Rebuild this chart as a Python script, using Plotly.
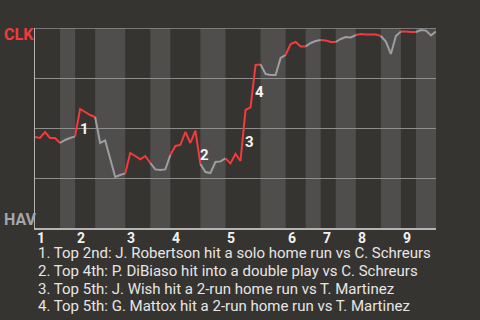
import plotly.graph_objects as go

# Win probability for CLK after each play (0 = HAV wins, 1 = CLK wins)
win_prob = [
    0.455, 0.45, 0.48, 0.45, 0.45, 0.425,            # 1T
    0.44, 0.45, 0.458,                                 # 1B
    0.595, 0.58, 0.565, 0.555,                         # 2T
    0.425, 0.438, 0.345, 0.255, 0.265, 0.273,          # 2B
    0.375, 0.36, 0.343, 0.36, 0.325,                   # 3T
    0.293, 0.29, 0.293, 0.365,                         # 3B
    0.41, 0.415, 0.48, 0.425, 0.487, 0.32,             # 4T
    0.28, 0.275, 0.33, 0.333, 0.348,                   # 4B
    0.323, 0.37, 0.335, 0.59, 0.603, 0.815, 0.818,     # 5T
    0.77, 0.765, 0.765, 0.85, 0.865,                   # 5B
    0.92, 0.93, 0.908, 0.908,                          # 6T
    0.925, 0.935, 0.94,                                # 6B
    0.938, 0.93, 0.93,                                 # 7T
    0.945, 0.955, 0.953, 0.965,                        # 7B
    0.97, 0.968, 0.967, 0.967, 0.96,                   # 8T
    0.932, 0.87, 0.96, 0.982,                          # 8B
    0.983, 0.98, 0.98,                                 # 9T
    0.99, 0.987, 0.963, 0.982,                         # 9B
]
plays = list(range(len(win_prob)))

# play index where each half-inning starts (last value = end of game)
half_inning_bounds = [0, 5, 8, 12, 18, 23, 27, 33, 38, 45, 50, 54, 57, 60, 64, 69, 73, 76, 80]
inning_labels = ["1", "2", "3", "4", "5", "6", "7", "8", "9"]

event_notes = [
    "1. Top 2nd: J. Robertson hit a solo home run vs C. Schreurs",
    "2. Top 4th: P. DiBiaso hit into a double play vs C. Schreurs",
    "3. Top 5th: J. Wish hit a 2-run home run vs T. Martinez",
    "4. Top 5th: G. Mattox hit a 2-run home run vs T. Martinez",
]
event_marks = ["1", "2", "3", "4"]
event_mark_x = [9.9, 33.9, 42.7, 44.7]
event_mark_y = [0.495, 0.367, 0.432, 0.681]

BG = "#363430"
BAND = "#4f4e4c"
RED = "#f43a3a"
GREY = "#9b9fa2"
FONT = "Roboto"

fig = go.Figure()

shapes = []
for k in range(len(half_inning_bounds) - 1):
    if k % 2 == 1:
        shapes.append(dict(type="rect", xref="x", yref="paper",
                           x0=half_inning_bounds[k], x1=half_inning_bounds[k + 1],
                           y0=0, y1=1, fillcolor=BAND, line=dict(width=0),
                           layer="below"))
# top border line (grid line at 100%)
shapes.append(dict(type="line", xref="paper", yref="y", x0=0, x1=1, y0=1, y1=1,
                   line=dict(color="#8e8e8e", width=1.5), layer="below"))

for k in range(len(half_inning_bounds) - 1):
    a, b = half_inning_bounds[k], half_inning_bounds[k + 1]
    color = RED if k % 2 == 0 else GREY
    fig.add_trace(go.Scatter(x=plays[a:b + 1], y=win_prob[a:b + 1], mode="lines",
                             line=dict(color=color, width=2), hoverinfo="skip",
                             showlegend=False, cliponaxis=False))

annotations = []
for lab, b in zip(inning_labels, half_inning_bounds[0:-1:2]):
    annotations.append(dict(x=b, y=0, xref="x", yref="paper", text=f"<b>{lab}</b>",
                            showarrow=False, xanchor="left", yanchor="top", yshift=0,
                            xshift=0, font=dict(family=FONT, size=14, color="#f2f2f2")))

for m, mx, my in zip(event_marks, event_mark_x, event_mark_y):
    annotations.append(dict(x=mx, y=my, xref="x", yref="y", text=f"<b>{m}</b>",
                            showarrow=False, xanchor="center", yanchor="middle",
                            font=dict(family=FONT, size=15, color="#f4f4f4")))

for i, note in enumerate(event_notes):
    py = 253.3 + i * 17.6
    annotations.append(dict(x=1 / 401, y=(228 - py) / 200, xref="paper", yref="paper",
                            text=note, showarrow=False, xanchor="left", yanchor="middle",
                            font=dict(family=FONT, size=15, color="#e6e6e6")))

annotations.append(dict(x=-33 / 401, y=(228 - 34.2) / 200, xref="paper", yref="paper",
                        text="<b>CLK</b>", showarrow=False, xanchor="left", yanchor="middle",
                        font=dict(family=FONT, size=16, color=RED)))
annotations.append(dict(x=-33 / 401, y=(228 - 219.2) / 200, xref="paper", yref="paper",
                        text="<b>HAV</b>", showarrow=False, xanchor="left", yanchor="middle",
                        font=dict(family=FONT, size=16, color="#a3a7aa")))

fig.update_layout(
    width=480, height=320, autosize=False,
    margin=dict(l=35, r=44, t=28, b=92, pad=0),
    paper_bgcolor=BG, plot_bgcolor=BG,
    shapes=shapes, annotations=annotations,
    xaxis=dict(range=[0, 80], showgrid=False, zeroline=False, showticklabels=False,
               ticks="", showline=True, linecolor="#b4b4b4", linewidth=2, fixedrange=True),
    yaxis=dict(range=[0, 1], tickvals=[0.25, 0.5, 0.75], showgrid=True,
               gridcolor="#8e8e8e", gridwidth=1, zeroline=False, showticklabels=False,
               ticks="", showline=True, linecolor="#b4b4b4", linewidth=1, fixedrange=True),
)

fig.write_html("out.html", config={"displayModeBar": False})
